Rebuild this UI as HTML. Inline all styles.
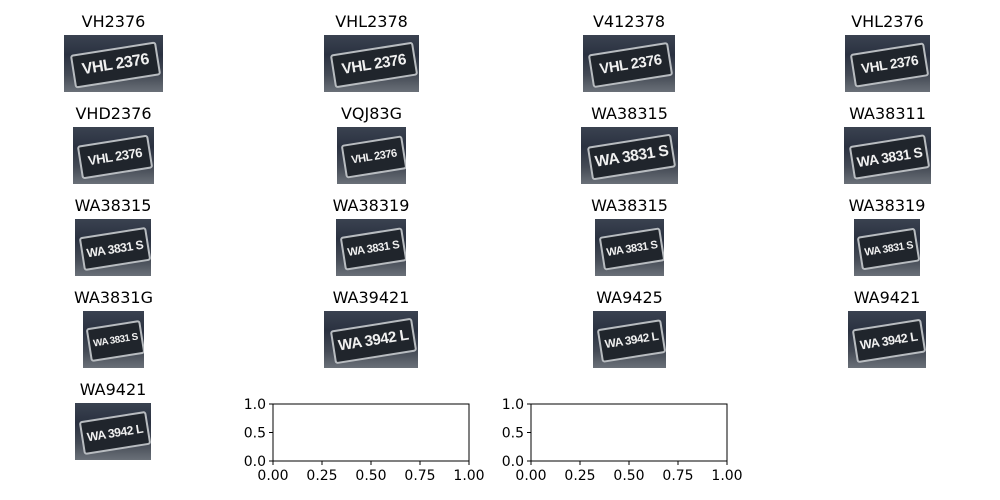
<!DOCTYPE html>
<html><head><meta charset="utf-8"><style>
body{margin:0;background:#fff;width:1000px;height:500px;position:relative;overflow:hidden;font-family:"DejaVu Sans","Liberation Sans",sans-serif}
.t{position:absolute;font-size:16px;color:#000;text-align:center;width:200px;white-space:nowrap;font-family:"DejaVu Sans",sans-serif}
.im{position:absolute;overflow:hidden;background:linear-gradient(180deg,#3a4250 0%,#2a3140 35%,#444a55 70%,#6a7078 100%)}
.pl{position:absolute;left:8%;top:22%;width:84%;height:52%;background:#20252c;border:2px solid #b8bcc0;border-radius:3px;transform:rotate(-9deg);display:flex;align-items:center;justify-content:center;color:#f0f0f0;font-weight:bold;font-family:"Liberation Sans Narrow","Liberation Sans",sans-serif;letter-spacing:-0.5px}
</style></head><body>
<svg width="1000" height="500" style="position:absolute;left:0;top:0" id="axsvg"></svg>
<script>
const titles=["VH2376","VHL2378","V412378","VHL2376","VHD2376","VQJ83G","WA38315","WA38311","WA38315","WA38319","WA38315","WA38319","WA3831G","WA39421","WA9425","WA9421","WA9421"];
const plates=["VHL 2376","VHL 2376","VHL 2376","VHL 2376","VHL 2376","VHL 2376","WA 3831 S","WA 3831 S","WA 3831 S","WA 3831 S","WA 3831 S","WA 3831 S","WA 3831 S","WA 3942 L","WA 3942 L","WA 3942 L","WA 3942 L"];
const boxes=[[64,163],[324,419],[583,675],[845,930],[73,154],[337,406],[581,678],[844,931],[75,151],[336,406],[595,664],[854,920],[83,144],[324,418],[593,666],[848,926],[75,151]];
titles.forEach((tt,i)=>{
  const r=Math.floor(i/4), top=35+r*92, b=boxes[i], cx=(b[0]+b[1])/2;
  const t=document.createElement('div');t.className='t';
  
  
  t.style.left=(cx-100)+'px';t.style.top=(top-23)+'px';t.textContent=tt;document.body.appendChild(t);
  const im=document.createElement('div');im.className='im';
  
  
  im.style.left=b[0]+'px';im.style.top=top+'px';im.style.width=(b[1]-b[0])+'px';im.style.height='57px';
  const p=document.createElement('div');p.className='pl';
  
  
  const w=b[1]-b[0];p.style.fontSize=Math.max(9,Math.min(17,w/6.2))+'px';p.textContent=plates[i];
  im.appendChild(p);document.body.appendChild(im);
});
const xt=["0.00","0.25","0.50","0.75","1.00"], yt=["0.0","0.5","1.0"];
const svg=document.getElementById('axsvg');const NS="http://www.w3.org/2000/svg";
function mk(tag,attrs,txt){const e=document.createElementNS(NS,tag);for(const k in attrs)e.setAttribute(k,attrs[k]);if(txt)e.textContent=txt;svg.appendChild(e);return e;}
[273,531].forEach(x0=>{
  const x1=x0+196,y0=404,y1=461;
  const r=mk('rect',{x:x0,y:y0,width:196,height:57,fill:'none',stroke:'#000','stroke-width':1});
  
  
  xt.forEach((l,i)=>{const x=x0+i/(xt.length-1)*196;mk('line',{x1:x,x2:x,y1:y1,y2:y1+4,stroke:'#000'});
    const e=mk('text',{x:x,y:y1+19,'text-anchor':'middle','font-size':14,'font-family':'DejaVu Sans, sans-serif'},l);
    
    });
  yt.forEach((l,i)=>{const y=y1-i/(yt.length-1)*57;mk('line',{x1:x0-4,x2:x0,y1:y,y2:y,stroke:'#000'});
    const e=mk('text',{x:x0-7,y:y+5,'text-anchor':'end','font-size':14,'font-family':'DejaVu Sans, sans-serif'},l);
    
    });
});
</script>
</body></html>
